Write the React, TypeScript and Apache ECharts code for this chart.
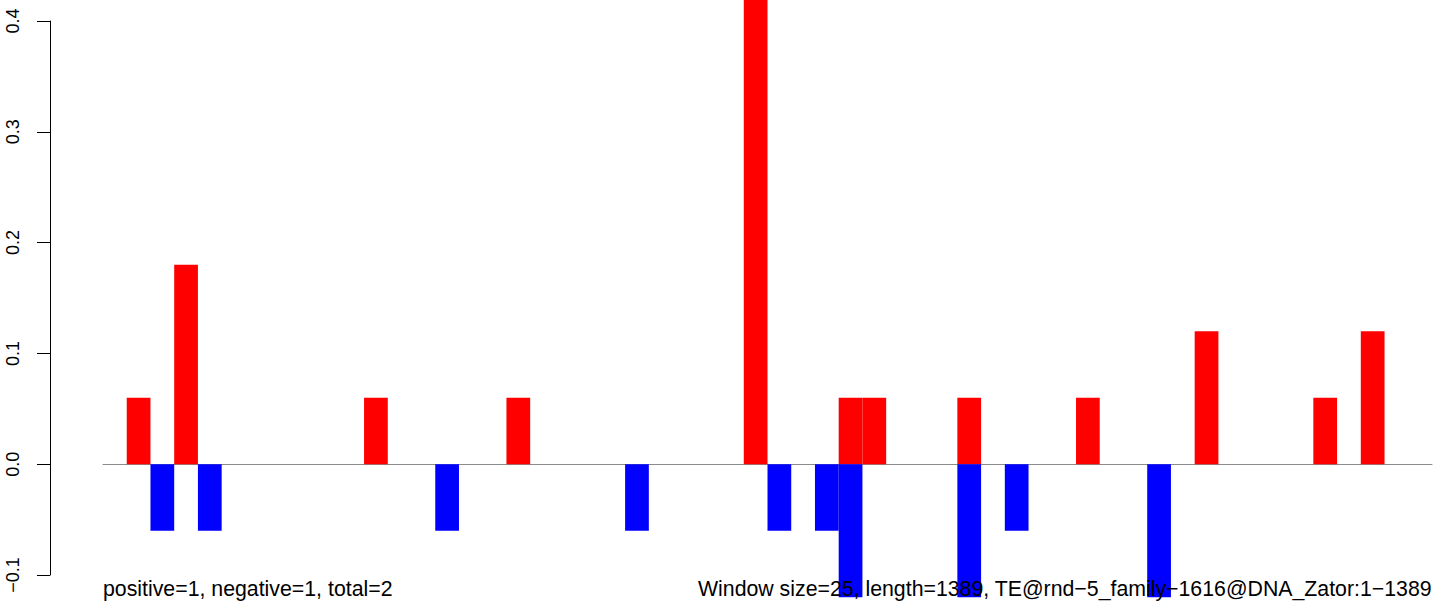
import React, { useEffect, useRef } from "react";
import * as echarts from "echarts";

// 56 windows of size 25 over length 1389
const windows: string[] = [
  "1", "2", "3", "4", "5", "6", "7", "8", "9", "10",
  "11", "12", "13", "14", "15", "16", "17", "18", "19", "20",
  "21", "22", "23", "24", "25", "26", "27", "28", "29", "30",
  "31", "32", "33", "34", "35", "36", "37", "38", "39", "40",
  "41", "42", "43", "44", "45", "46", "47", "48", "49", "50",
  "51", "52", "53", "54", "55", "56",
];

const positiveValues: number[] = [
  0, 0.06, 0, 0.18, 0, 0, 0, 0, 0, 0,
  0, 0.06, 0, 0, 0, 0, 0, 0.06, 0, 0,
  0, 0, 0, 0, 0, 0, 0, 0.42, 0, 0,
  0, 0.06, 0.06, 0, 0, 0, 0.06, 0, 0, 0,
  0, 0.06, 0, 0, 0, 0, 0.12, 0, 0, 0,
  0, 0.06, 0, 0.12, 0, 0,
];

const negativeValues: number[] = [
  0, 0, -0.06, 0, -0.06, 0, 0, 0, 0, 0,
  0, 0, 0, 0, -0.06, 0, 0, 0, 0, 0,
  0, 0, -0.06, 0, 0, 0, 0, 0, -0.06, 0,
  -0.06, -0.12, 0, 0, 0, 0, -0.12, 0, -0.06, 0,
  0, 0, 0, 0, -0.12, 0, 0, 0, 0, 0,
  0, 0, 0, 0, 0, 0,
];

const leftNote = "positive=1, negative=1, total=2";
const rightNote =
  "Window size=25, length=1389, TE@rnd\u22125_family\u22121616@DNA_Zator:1\u22121389";

export default function App() {
  const ref = useRef<HTMLDivElement>(null);

  useEffect(() => {
    document.body.style.margin = "0";
    if (!ref.current) return;
    const chart = echarts.init(ref.current, undefined, { renderer: "svg" });
    const font = "'Liberation Sans', Arial, Helvetica, sans-serif";
    chart.setOption({
      animation: false,
      backgroundColor: "#ffffff",
      grid: { left: 103, right: 12, top: 21, bottom: 34, containLabel: false },
      xAxis: {
        type: "category",
        data: windows,
        boundaryGap: true,
        axisLine: { show: true, onZero: true, lineStyle: { color: "#8c8c8c", width: 1 } },
        axisTick: { show: false },
        axisLabel: { show: false },
        splitLine: { show: false },
      },
      yAxis: {
        type: "value",
        min: -0.1,
        max: 0.4,
        interval: 0.1,
        offset: 53,
        axisLine: { show: true, lineStyle: { color: "#000000", width: 1 } },
        axisTick: { show: true, length: 13, inside: false, lineStyle: { color: "#000000", width: 1 } },
        splitLine: { show: false },
        axisLabel: {
          show: true,
          rotate: 90,
          margin: 28,
          color: "#000000",
          fontSize: 18,
          fontFamily: font,
          formatter: (v: number) =>
            v < 0 ? "\u2212" + Math.abs(v).toFixed(1) : v.toFixed(1),
        },
      },
      series: [
        {
          name: "positive",
          type: "bar",
          data: positiveValues,
          barGap: "-100%",
          barCategoryGap: 0,
          clip: false,
          itemStyle: { color: "#ff0000", borderWidth: 0 },
          z: 2,
        },
        {
          name: "negative",
          type: "bar",
          data: negativeValues,
          barGap: "-100%",
          barCategoryGap: 0,
          clip: false,
          itemStyle: { color: "#0000ff", borderWidth: 0 },
          z: 2,
        },
      ],
      graphic: [
        {
          type: "text",
          left: 103,
          top: 578,
          z: 100,
          style: { text: leftNote, fill: "#000000", fontSize: 21.3, fontFamily: font },
        },
        {
          type: "text",
          right: 12,
          top: 578,
          z: 100,
          style: { text: rightNote, fill: "#000000", fontSize: 21.3, fontFamily: font },
        },
      ],
    });
    return () => chart.dispose();
  }, []);

  return <div ref={ref} style={{ width: 1444, height: 609 }} />;
}
